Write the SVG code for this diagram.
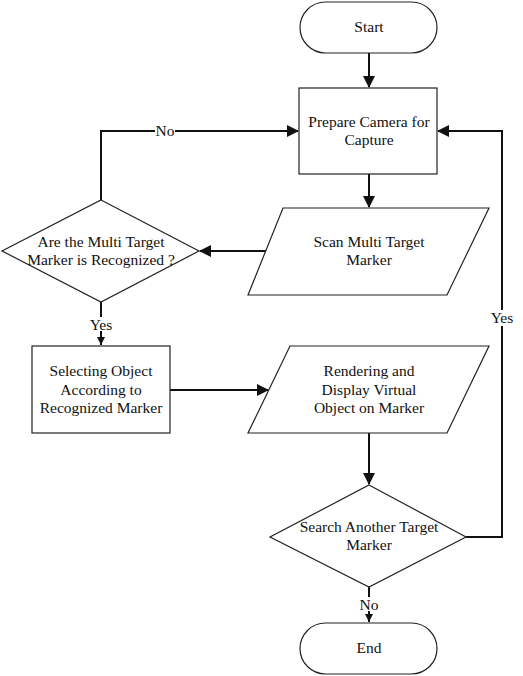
<svg xmlns="http://www.w3.org/2000/svg" width="523" height="676" viewBox="0 0 523 676">
<style>
.shape{fill:#fff;stroke:#222;stroke-width:1.2}
.conn{fill:none;stroke:#111;stroke-width:2}
text{font-family:'Liberation Serif','DejaVu Serif','Times New Roman',serif;font-size:15.5px;fill:#111;text-anchor:middle}
</style>
<defs>
<marker id="ah" markerWidth="12" markerHeight="12" refX="11" refY="6" orient="auto" markerUnits="userSpaceOnUse">
<path d="M0,0 L12,6 L0,12 Z" fill="#111"/>
</marker>
<marker id="ahs" markerWidth="8" markerHeight="8" refX="8" refY="4" orient="auto" markerUnits="userSpaceOnUse">
<path d="M0,0 L8,4 L0,8 Z" fill="#111"/>
</marker>
</defs>
<g id="connectors">
<path class="conn" d="M369,53 V87" marker-end="url(#ah)"/>
<path class="conn" d="M369,174 V207" marker-end="url(#ah)"/>
<path class="conn" d="M268,251 H200" marker-end="url(#ah)"/>
<path class="conn" d="M101,200 V131 H298" marker-end="url(#ah)"/>
<path class="conn" d="M101,302 V345" marker-end="url(#ahs)"/>
<path class="conn" d="M170,390 H268" marker-end="url(#ah)"/>
<path class="conn" d="M369,433 V484" marker-end="url(#ah)"/>
<path class="conn" d="M466,537 H502 V131 H438" marker-end="url(#ah)"/>
<path class="conn" d="M369,587 V622" marker-end="url(#ahs)"/>
<rect x="155" y="124" width="20" height="14" fill="#fff"/>
<text x="165" y="136">No</text>
<rect x="88" y="317" width="26" height="14" fill="#fff"/>
<text x="101" y="330">Yes</text>
<rect x="489" y="310" width="26" height="16" fill="#fff"/>
<text x="502" y="323">Yes</text>
<rect x="359" y="597" width="20" height="14" fill="#fff"/>
<text x="369" y="610">No</text>
</g>
<g id="start">
<rect class="shape" x="300" y="2" width="137" height="51" rx="25.5"/>
<text x="369" y="32">Start</text>
</g>
<g id="prepare">
<rect class="shape" x="299" y="88" width="138" height="86"/>
<text x="369" y="127">Prepare Camera for</text>
<text x="369" y="145">Capture</text>
</g>
<g id="scan">
<polygon class="shape" points="283,208 489,208 447,295 248,295"/>
<text x="369" y="247">Scan Multi Target</text>
<text x="369" y="265">Marker</text>
</g>
<g id="recognized">
<polygon class="shape" points="101,200 199,251 101,302 2,251"/>
<text x="101" y="247">Are the Multi Target</text>
<text x="101" y="265">Marker is Recognized ?</text>
</g>
<g id="selecting">
<rect class="shape" x="32" y="346" width="138" height="87"/>
<text x="101" y="376">Selecting Object</text>
<text x="101" y="395">According to</text>
<text x="101" y="413">Recognized Marker</text>
</g>
<g id="rendering">
<polygon class="shape" points="290,346 489,346 447,433 248,433"/>
<text x="369" y="376">Rendering and</text>
<text x="369" y="395">Display Virtual</text>
<text x="369" y="413">Object on Marker</text>
</g>
<g id="search">
<polygon class="shape" points="369,485 466,537 369,587 270,537"/>
<text x="369" y="532">Search Another Target</text>
<text x="369" y="550">Marker</text>
</g>
<g id="end">
<rect class="shape" x="300" y="623" width="137" height="51" rx="25.5"/>
<text x="369" y="653">End</text>
</g>
</svg>
